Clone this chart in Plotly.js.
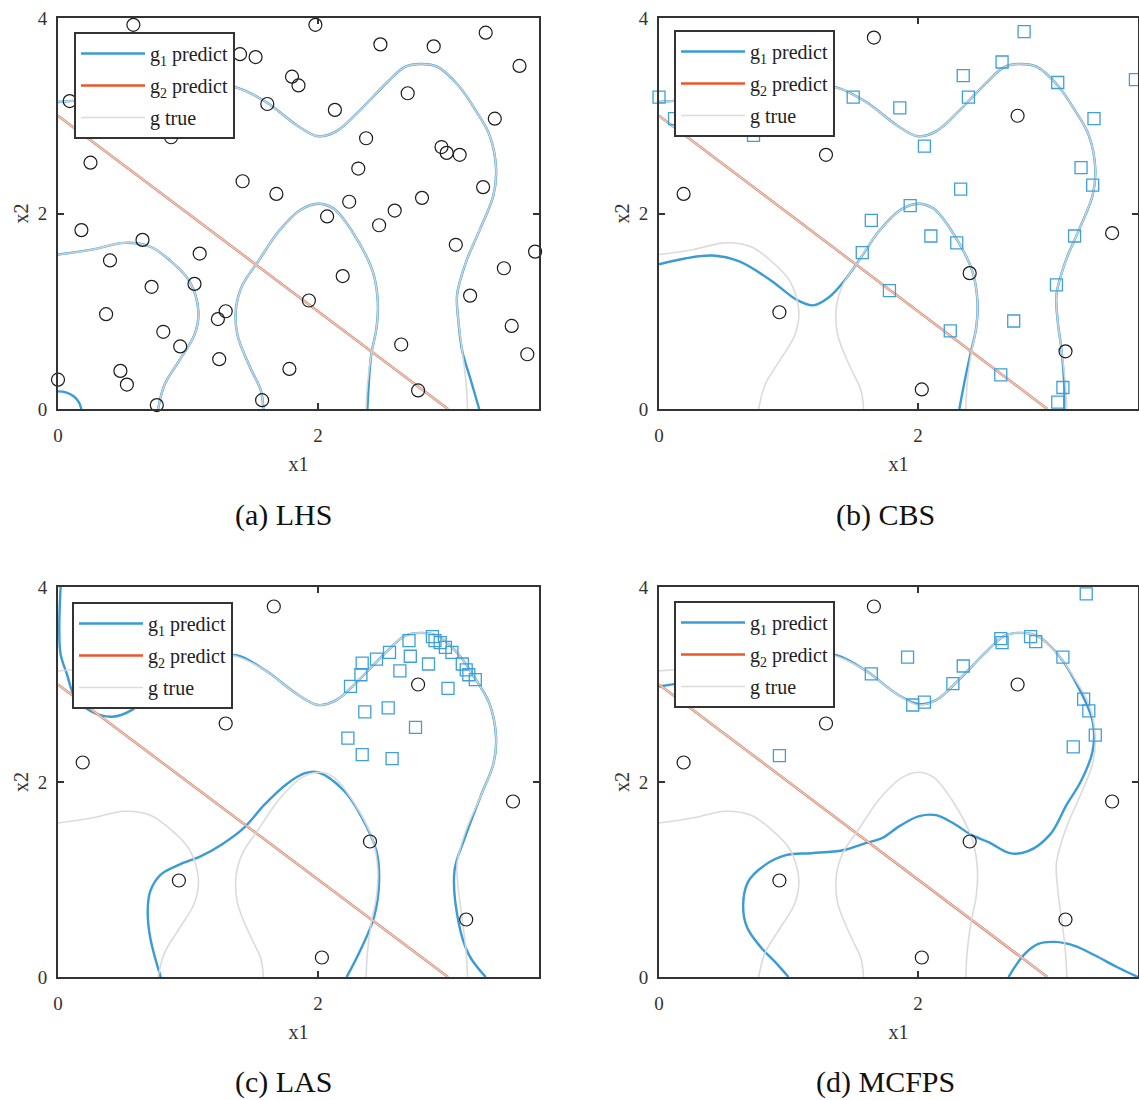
<!DOCTYPE html>
<html>
<head>
<meta charset="utf-8">
<script src="https://cdn.plot.ly/plotly-3.0.1.min.js"></script>
<style>
  html, body { margin: 0; padding: 0; background: #ffffff; }
  #chart { width: 1139px; height: 1100px; }
</style>
</head>
<body>
<div id="chart"></div>
<script>
// ---------------- data ----------------
// true limit-state contour g (segments separated by null)
const gTrueX = [0, 0.3, 0.7, 1.1, 1.37, 1.60, 1.84, 2.0, 2.14, 2.31, 2.53, 2.67, 2.79, 2.92, 3.08, 3.22, 3.32, 3.37, 3.35, 3.25, 3.14, 3.07, 3.08, 3.11, 3.14, 3.15, null,
  0, 0.26, 0.51, 0.71, 0.87, 1.01, 1.08, 1.05, 0.93, 0.82, 0.77, null,
  1.58, 1.56, 1.48, 1.38, 1.37, 1.42, 1.54, 1.70, 1.87, 2.0, 2.12, 2.28, 2.42, 2.46, 2.45, 2.41, 2.38, 2.37, null,
  0, 3];
const gTrueY = [3.14, 3.18, 3.27, 3.33, 3.29, 3.14, 2.90, 2.79, 2.84, 3.04, 3.34, 3.50, 3.53, 3.50, 3.31, 3.04, 2.80, 2.46, 2.19, 1.85, 1.51, 1.17, 0.90, 0.59, 0.25, 0, null,
  1.58, 1.63, 1.70, 1.66, 1.51, 1.31, 1.00, 0.76, 0.49, 0.25, 0, null,
  0, 0.19, 0.42, 0.76, 1.04, 1.27, 1.51, 1.82, 2.04, 2.10, 2.05, 1.78, 1.41, 1.10, 0.83, 0.56, 0.25, 0, null,
  3, 0];

// g2 predict (linear limit state)
const g2X = [0, 3];
const g2Y = [3, 0];

// g1 predict per method
const g1LhsX = [0, 0.3, 0.7, 1.1, 1.37, 1.60, 1.84, 2.0, 2.14, 2.31, 2.53, 2.67, 2.79, 2.92, 3.08, 3.22, 3.32, 3.37, 3.35, 3.25, 3.14, 3.07, 3.08, 3.11, 3.17, 3.24, null,
  0, 0.26, 0.51, 0.71, 0.87, 1.01, 1.08, 1.05, 0.93, 0.82, 0.77, null,
  1.58, 1.56, 1.48, 1.38, 1.37, 1.42, 1.54, 1.70, 1.87, 2.0, 2.12, 2.28, 2.42, 2.46, 2.45, 2.41, 2.39, 2.38, null,
  0, 0.06, 0.12, 0.16, 0.18];
const g1LhsY = [3.14, 3.18, 3.27, 3.33, 3.29, 3.14, 2.90, 2.79, 2.84, 3.04, 3.34, 3.50, 3.53, 3.50, 3.31, 3.04, 2.80, 2.46, 2.19, 1.85, 1.51, 1.17, 0.90, 0.59, 0.32, 0, null,
  1.58, 1.63, 1.70, 1.66, 1.51, 1.31, 1.00, 0.76, 0.49, 0.25, 0, null,
  0, 0.19, 0.42, 0.76, 1.04, 1.27, 1.51, 1.82, 2.04, 2.10, 2.05, 1.78, 1.41, 1.10, 0.83, 0.56, 0.25, 0, null,
  0.18, 0.17, 0.13, 0.07, 0];

const g1CbsX = [0, 0.3, 0.7, 1.1, 1.37, 1.60, 1.84, 2.0, 2.14, 2.31, 2.53, 2.67, 2.79, 2.92, 3.08, 3.22, 3.32, 3.37, 3.35, 3.25, 3.14, 3.07, 3.08, 3.11, 3.13, 3.13, null,
  0, 0.2, 0.41, 0.62, 0.87, 1.06, 1.19, 1.31, 1.43, 1.56, 1.70, 1.87, 2.0, 2.12, 2.28, 2.42, 2.46, 2.45, 2.41, 2.36, 2.32];
const g1CbsY = [3.14, 3.18, 3.27, 3.33, 3.29, 3.14, 2.90, 2.79, 2.84, 3.04, 3.34, 3.50, 3.53, 3.50, 3.31, 3.04, 2.80, 2.46, 2.19, 1.85, 1.51, 1.17, 0.90, 0.59, 0.25, 0, null,
  1.48, 1.54, 1.57, 1.51, 1.31, 1.12, 1.06, 1.14, 1.31, 1.55, 1.82, 2.04, 2.10, 2.05, 1.78, 1.41, 1.10, 0.83, 0.59, 0.28, 0];

const g1LasX = [0.02, 0.01, 0.02, 0.07, 0.13, 0.26, 0.42, 0.57, 0.66, 0.85, 1.1, 1.37, 1.60, 1.84, 2.0, 2.14, 2.31, 2.53, 2.67, 2.79, 2.92, 3.08, 3.22, 3.32, 3.37, 3.35, 3.25, 3.13, 3.05, 3.08, 3.16, 3.29, null,
  0.79, 0.71, 0.69, 0.71, 0.79, 0.93, 1.10, 1.26, 1.43, 1.59, 1.76, 1.90, 2.0, 2.20, 2.34, 2.45, 2.47, 2.43, 2.31, 2.22];
const g1LasY = [4.0, 3.56, 3.31, 3.10, 2.87, 2.72, 2.67, 2.74, 2.84, 3.05, 3.25, 3.30, 3.14, 2.90, 2.79, 2.84, 3.04, 3.34, 3.50, 3.53, 3.50, 3.31, 3.04, 2.80, 2.45, 2.19, 1.85, 1.43, 1.09, 0.57, 0.23, 0, null,
  0, 0.40, 0.68, 0.88, 1.05, 1.15, 1.24, 1.36, 1.53, 1.77, 1.98, 2.09, 2.10, 1.91, 1.63, 1.29, 0.98, 0.61, 0.23, 0];

const g1McX = [0, 0.3, 0.7, 1.1, 1.37, 1.60, 1.84, 2.0, 2.14, 2.31, 2.53, 2.67, 2.79, 2.92, 3.08, 3.24, 3.35, 3.35, 3.26, 3.15, 3.02, 2.85, 2.71, 2.55, 2.41, 2.27, 2.14, 2.01, 1.86, 1.73, 1.59, 1.42, 1.18, 0.98, 0.82, 0.69, 0.65, 0.68, 0.79, 0.90, 1.0, null,
  2.70, 2.82, 2.93, 3.06, 3.21, 3.37, 3.54, 3.70];
const g1McY = [2.98, 3.05, 3.2, 3.32, 3.30, 3.14, 2.90, 2.80, 2.84, 3.04, 3.34, 3.50, 3.53, 3.50, 3.31, 2.97, 2.62, 2.32, 2.01, 1.77, 1.46, 1.29, 1.27, 1.38, 1.46, 1.58, 1.66, 1.65, 1.55, 1.43, 1.37, 1.30, 1.27, 1.25, 1.15, 0.98, 0.74, 0.51, 0.30, 0.15, 0, null,
  0, 0.23, 0.34, 0.36, 0.32, 0.22, 0.10, 0];

// LHS samples
const lhsX = [0.58,1.98,2.48,2.89,3.29,3.55,1.40,1.52,1.80,1.85,1.61,2.13,2.69,3.36,0.09,0.87,0.25,2.37,2.95,2.99,3.09,2.31,1.42,1.68,2.24,2.80,2.59,3.27,2.07,0.18,2.47,0.65,3.06,3.67,0.40,1.09,3.43,1.05,0.72,2.19,3.17,1.93,0.37,1.29,1.23,3.49,0.81,0.94,2.64,1.24,3.61,1.78,0.48,0.53,0.0,2.77,1.57,0.76];
const lhsY = [3.93,3.93,3.73,3.71,3.85,3.51,3.63,3.60,3.40,3.31,3.12,3.06,3.23,2.97,3.15,2.78,2.52,2.77,2.68,2.62,2.60,2.46,2.33,2.20,2.12,2.16,2.03,2.27,1.97,1.83,1.88,1.73,1.68,1.61,1.52,1.59,1.44,1.28,1.25,1.36,1.16,1.11,0.97,1.00,0.92,0.85,0.79,0.64,0.66,0.51,0.56,0.41,0.39,0.25,0.30,0.19,0.09,0.04];

// initial samples shared by CBS, LAS, MCFPS
const initX = [1.66, 2.77, 1.29, 0.19, 3.50, 2.40, 0.93, 3.14, 2.03];
const initY = [3.80, 3.00, 2.60, 2.20, 1.80, 1.39, 0.99, 0.59, 0.20];

// added samples
const cbsX = [0.0,0.12,0.73,1.50,1.86,2.05,2.35,2.39,2.65,2.82,3.08,3.68,3.36,3.26,3.35,2.33,1.94,1.64,2.10,2.30,1.57,3.21,1.78,3.07,2.25,2.74,2.64,3.12,3.08];
const cbsY = [3.19,2.97,2.80,3.19,3.08,2.69,3.41,3.19,3.55,3.86,3.34,3.37,2.97,2.47,2.29,2.25,2.08,1.93,1.77,1.70,1.60,1.77,1.21,1.27,0.80,0.90,0.35,0.22,0.07];
const lasX = [2.25,2.33,2.34,2.45,2.55,2.70,2.71,2.63,2.85,2.88,2.90,2.94,2.98,3.03,3.11,3.14,3.16,3.21,3.00,2.36,2.54,2.75,2.23,2.34,2.57];
const lasY = [2.98,3.10,3.22,3.26,3.33,3.45,3.29,3.14,3.21,3.49,3.45,3.43,3.38,3.33,3.21,3.15,3.10,3.05,2.96,2.72,2.76,2.56,2.45,2.28,2.24];
const mcX = [3.30,2.64,2.65,2.87,2.91,3.12,1.92,1.64,2.35,2.27,1.96,2.05,3.28,3.32,3.37,3.20,0.93];
const mcY = [3.93,3.47,3.43,3.49,3.44,3.28,3.28,3.11,3.19,3.01,2.79,2.82,2.85,2.73,2.48,2.36,2.27];

const captions = ['(a) LHS', '(b) CBS', '(c) LAS', '(d) MCFPS'];
const legendNames = ['g<sub>1</sub> predict', 'g<sub>2</sub> predict', 'g true'];

// ---------------- styling ----------------
const FONT = '"Liberation Serif", "Times New Roman", Times, serif';
const BLUE = '#3a9bd5';
const ORANGE = '#e9572b';
const GRAY = '#d9d9d9';
const AX = '#333333';

const panels = [
  {g1x: g1LhsX, g1y: g1LhsY, cx: lhsX, cy: lhsY, sx: [], sy: []},
  {g1x: g1CbsX, g1y: g1CbsY, cx: initX, cy: initY, sx: cbsX, sy: cbsY},
  {g1x: g1LasX, g1y: g1LasY, cx: initX, cy: initY, sx: lasX, sy: lasY},
  {g1x: g1McX, g1y: g1McY, cx: initX, cy: initY, sx: mcX, sy: mcY}
];

const traces = [];
panels.forEach((p, i) => {
  const n = i + 1;
  const xa = n === 1 ? 'x' : 'x' + n;
  const ya = n === 1 ? 'y' : 'y' + n;
  const lg = n === 1 ? 'legend' : 'legend' + n;
  traces.push({x: p.g1x, y: p.g1y, xaxis: xa, yaxis: ya, mode: 'lines', name: legendNames[0],
    line: {color: BLUE, width: 2.4, shape: 'spline', smoothing: 1}, legend: lg, legendgroup: 'a' + n, hoverinfo: 'skip'});
  traces.push({x: g2X, y: g2Y, xaxis: xa, yaxis: ya, mode: 'lines', name: legendNames[1],
    line: {color: ORANGE, width: 2.4}, legend: lg, legendgroup: 'b' + n, hoverinfo: 'skip'});
  traces.push({x: gTrueX, y: gTrueY, xaxis: xa, yaxis: ya, mode: 'lines', name: legendNames[2],
    line: {color: GRAY, width: 1.6, shape: 'spline', smoothing: 1}, opacity: 0.92, legend: lg, legendgroup: 'c' + n, hoverinfo: 'skip'});
  traces.push({x: p.cx, y: p.cy, xaxis: xa, yaxis: ya, mode: 'markers', showlegend: false, cliponaxis: false,
    marker: {symbol: 'circle-open', size: 13, color: '#1a1a1a', line: {width: 1.2, color: '#1a1a1a'}}});
  if (p.sx.length) {
    traces.push({x: p.sx, y: p.sy, xaxis: xa, yaxis: ya, mode: 'markers', showlegend: false, cliponaxis: false,
      marker: {symbol: 'square-open', size: 12, color: '#3f9fd8', line: {width: 1.3, color: '#3f9fd8'}}});
  }
});

const W = 1139, H = 1100;
const xDom = [[58 / W, 539 / W], [659 / W, 1138 / W]];
const yDom = [[(H - 409) / H, (H - 18) / H], [(H - 977) / H, (H - 587) / H]];

function xAxis(dom, anchor) {
  return {domain: dom, anchor: anchor, range: [0, 3.7], tickvals: [0, 2], ticktext: ['0', '2'],
    ticks: 'inside', ticklen: 6, tickwidth: 2, tickcolor: AX, showline: true, linecolor: AX, linewidth: 2,
    mirror: 'allticks', showgrid: false, zeroline: false, fixedrange: true,
    tickfont: {family: FONT, size: 19, color: '#333'}, ticklabelstandoff: 8,
    title: {text: 'x1', font: {family: FONT, size: 20, color: '#333'}, standoff: 12}};
}
function yAxis(dom, anchor) {
  return {domain: dom, anchor: anchor, range: [0, 4], tickvals: [0, 2, 4], ticktext: ['0', '2', '4'],
    ticks: 'inside', ticklen: 6, tickwidth: 2, tickcolor: AX, showline: true, linecolor: AX, linewidth: 2,
    mirror: 'allticks', showgrid: false, zeroline: false, fixedrange: true,
    tickfont: {family: FONT, size: 19, color: '#333'}, ticklabelstandoff: 5,
    title: {text: 'x2', font: {family: FONT, size: 20, color: '#333'}, standoff: 4}};
}
function legendAt(px, py) {
  return {x: px / W, y: 1 - py / H, xanchor: 'left', yanchor: 'top', bgcolor: '#ffffff',
    bordercolor: AX, borderwidth: 2, font: {family: FONT, size: 20, color: '#222'},
    traceorder: 'grouped', tracegroupgap: 3, itemwidth: 64};
}

const layout = {
  width: W, height: H, margin: {l: 0, r: 0, t: 0, b: 0},
  paper_bgcolor: '#ffffff', plot_bgcolor: '#ffffff', showlegend: true,
  font: {family: FONT, color: '#333'},
  xaxis: xAxis(xDom[0], 'y'), yaxis: yAxis(yDom[0], 'x'),
  xaxis2: xAxis(xDom[1], 'y2'), yaxis2: yAxis(yDom[0], 'x2'),
  xaxis3: xAxis(xDom[0], 'y3'), yaxis3: yAxis(yDom[1], 'x3'),
  xaxis4: xAxis(xDom[1], 'y4'), yaxis4: yAxis(yDom[1], 'x4'),
  legend: legendAt(74, 32), legend2: legendAt(674, 30),
  legend3: legendAt(72, 602), legend4: legendAt(674, 601),
  annotations: [
    {text: captions[0], x: 283 / W, y: 1 - 515 / H},
    {text: captions[1], x: 885 / W, y: 1 - 515 / H},
    {text: captions[2], x: 283 / W, y: 1 - 1082 / H},
    {text: captions[3], x: 885 / W, y: 1 - 1082 / H}
  ].map(a => Object.assign(a, {xref: 'paper', yref: 'paper', showarrow: false, xanchor: 'center', yanchor: 'middle',
    font: {family: FONT, size: 30, color: '#111'}}))
};

Plotly.newPlot('chart', traces, layout, {displayModeBar: false, staticPlot: true});
</script>
</body>
</html>
